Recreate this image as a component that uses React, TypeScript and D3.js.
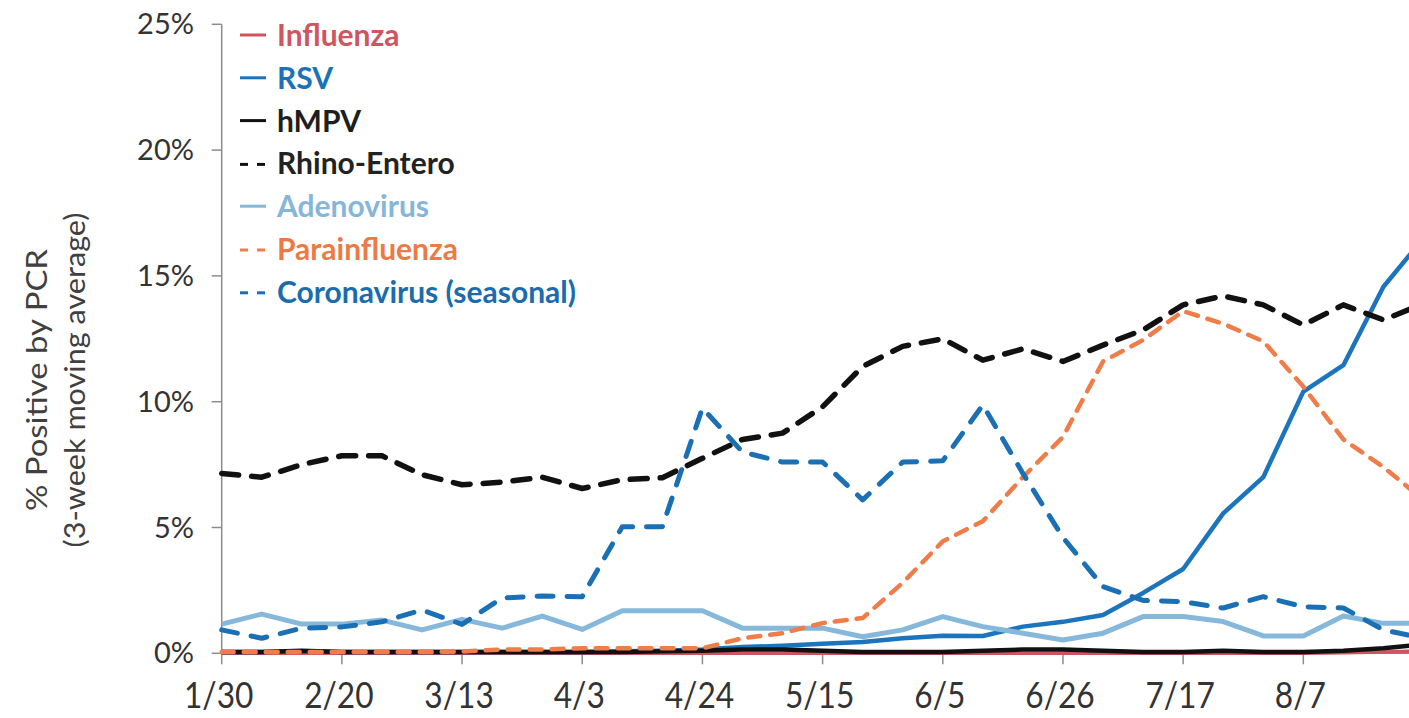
import React from "react";
import * as d3 from "d3";

const weeks = ["1/30","2/6","2/13","2/20","2/27","3/6","3/13","3/20","3/27","4/3","4/10","4/17","4/24","5/1","5/8","5/15","5/22","5/29","6/5","6/12","6/19","6/26","7/3","7/10","7/17","7/24","7/31","8/7","8/14","8/21","8/28"];
const tickLabels = ["1/30","2/20","3/13","4/3","4/24","5/15","6/5","6/26","7/17","8/7"];
const yTicks = [0, 5, 10, 15, 20, 25];

const influenza = [0,0,0,0,0,0,0,0,0,0,0,0,0,0,0,0,0,0,0,0,0,0,0,0,0,0,0,0,0.02,0.05,0.1];
const rsv = [0.05,0.05,0.08,0.05,0.05,0.05,0.05,0.05,0.05,0.05,0.08,0.1,0.15,0.25,0.3,0.38,0.45,0.6,0.7,0.69,1.06,1.25,1.52,2.4,3.35,5.56,7.0,10.4,11.45,14.57,16.5];
const hmpv = [0.05,0.05,0.1,0.05,0.05,0.05,0.05,0.05,0.05,0.05,0.05,0.08,0.1,0.15,0.15,0.1,0.05,0.05,0.05,0.1,0.15,0.15,0.1,0.05,0.05,0.1,0.05,0.05,0.1,0.2,0.35];
const rhinoEntero = [7.15,7.0,7.5,7.85,7.85,7.1,6.7,6.8,7.0,6.55,6.9,6.98,7.75,8.5,8.75,9.8,11.4,12.2,12.5,11.65,12.1,11.6,12.25,12.85,13.85,14.2,13.85,13.05,13.85,13.25,13.9];
const adenovirus = [1.16,1.56,1.16,1.16,1.32,0.93,1.35,1.0,1.48,0.95,1.69,1.69,1.69,1.0,1.0,1.0,0.66,0.93,1.46,1.06,0.8,0.53,0.8,1.46,1.46,1.26,0.69,0.69,1.48,1.19,1.2];
const parainfluenza = [0.05,0.05,0.05,0.05,0.05,0.05,0.07,0.15,0.15,0.2,0.2,0.2,0.2,0.6,0.8,1.2,1.4,2.8,4.45,5.25,7.0,8.6,11.6,12.45,13.6,13.1,12.4,10.6,8.5,7.4,6.1];
const coronavirus = [0.93,0.6,1.0,1.05,1.25,1.72,1.15,2.2,2.28,2.25,5.03,5.03,9.75,8.0,7.6,7.6,6.1,7.6,7.65,9.87,7.15,4.6,2.65,2.1,2.05,1.8,2.25,1.85,1.8,0.93,0.6];

const seriesNames = ["Influenza","RSV","hMPV","Rhino-Entero","Adenovirus","Parainfluenza","Coronavirus (seasonal)"];
const seriesValues = [influenza, rsv, hmpv, rhinoEntero, adenovirus, parainfluenza, coronavirus];
const yTitle = ["% Positive by PCR", "(3-week moving average)"];

const styles = [
  { color: "#d0545e", text: "#cf5560", width: 3.5, dash: null },
  { color: "#1c74bd", text: "#1b72b8", width: 4.5, dash: null },
  { color: "#111111", text: "#1e1e1e", width: 4.5, dash: null },
  { color: "#111111", text: "#222222", width: 5.5, dash: "17 13" },
  { color: "#86b8dc", text: "#86b6d8", width: 5, dash: null },
  { color: "#ef7d4a", text: "#ec7a45", width: 4.5, dash: "12 10" },
  { color: "#1b70b5", text: "#1a6cae", width: 5, dash: "16 14" },
];

export default function App() {
  const W = 1409, H = 718;
  const x0 = 221.7, step = 40.06;
  const x = d3.scalePoint<string>().domain(weeks).range([x0, x0 + step * (weeks.length - 1)]);
  const y = d3.scaleLinear().domain([0, 25]).range([653.3, 24.3]);
  const line = d3.line<number>().x((_, i) => x(weeks[i]) as number).y((d) => y(d));
  const axisColor = "#8c8c8c";

  return (
    <svg width={W} height={H} style={{ position: "absolute", left: 0, top: 0, background: "#fff" }} fontFamily="Lato, 'Open Sans', sans-serif">
      <defs>
        <clipPath id="plotclip">
          <rect x={x0 - 5} y={0} width={W - x0 + 5} height={660} />
        </clipPath>
      </defs>
      {/* y axis */}
      <line x1={x0} x2={x0} y1={y(25)} y2={y(0)} stroke={axisColor} strokeWidth={1.5} />
      {yTicks.map((t) => (
        <g key={t}>
          <line x1={x0 - 10} x2={x0} y1={y(t)} y2={y(t)} stroke={axisColor} strokeWidth={1.5} />
          <text x={194} y={y(t) + 10} textAnchor="end" fontSize={29} fill="#333">{t}%</text>
        </g>
      ))}
      {/* x axis */}
      <line x1={x0} x2={W} y1={y(0)} y2={y(0)} stroke={axisColor} strokeWidth={1.5} />
      {tickLabels.map((lab) => {
        const px = x(lab) as number;
        return (
          <g key={lab}>
            <line x1={px} x2={px} y1={y(0)} y2={y(0) + 11} stroke={axisColor} strokeWidth={1.5} />
            <text transform={`translate(${px - 3},708) scale(0.88,1)`} textAnchor="middle" fontSize={36} fill="#333">{lab}</text>
          </g>
        );
      })}
      {/* y title */}
      <g transform="translate(47,380) rotate(-90)">
        <text x={0} y={0} textAnchor="middle" fontSize={29} fill="#404040" textLength={262} lengthAdjust="spacingAndGlyphs">{yTitle[0]}</text>
        <text x={0} y={38} textAnchor="middle" fontSize={29} fill="#404040" textLength={335} lengthAdjust="spacingAndGlyphs">{yTitle[1]}</text>
      </g>
      {/* series */}
      <g clipPath="url(#plotclip)">
        {seriesValues.map((vals, i) => (
          <path key={seriesNames[i]} d={line(vals) || ""} fill="none" stroke={styles[i].color}
            strokeWidth={styles[i].width} strokeDasharray={styles[i].dash || undefined}
            strokeLinejoin="round" strokeLinecap={styles[i].dash ? "round" : "butt"} />
        ))}
      </g>
      {/* legend */}
      {seriesNames.map((name, i) => {
        const by = 46 + i * 42.8;
        const s = styles[i];
        return (
          <g key={name}>
            {s.dash ? (
              <>
                <line x1={240} x2={248} y1={by - 10} y2={by - 10} stroke={s.color} strokeWidth={3} />
                <line x1={257} x2={265} y1={by - 10} y2={by - 10} stroke={s.color} strokeWidth={3} />
              </>
            ) : (
              <line x1={240} x2={266} y1={by - 11} y2={by - 11} stroke={s.color} strokeWidth={3} />
            )}
            <text x={277} y={by} fontSize={30} fontWeight={700} fill={s.text}>{name}</text>
          </g>
        );
      })}
    </svg>
  );
}
